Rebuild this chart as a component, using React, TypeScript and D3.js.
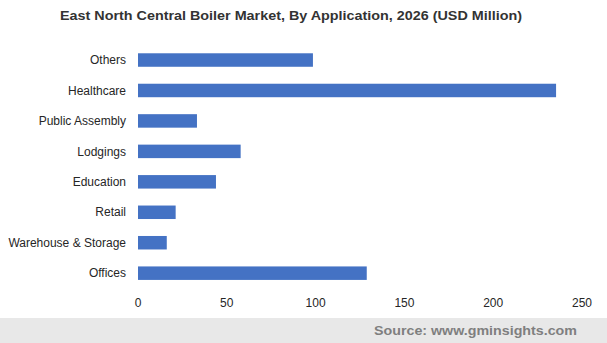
import React from "react";
import * as d3 from "d3";

const categories = [
  "Others",
  "Healthcare",
  "Public Assembly",
  "Lodgings",
  "Education",
  "Retail",
  "Warehouse & Storage",
  "Offices",
];
const values = [98.5, 235.4, 33.2, 57.8, 43.9, 21.2, 16.2, 128.8];
const xTicks = [0, 50, 100, 150, 200, 250];
const title = "East North Central Boiler Market, By Application, 2026 (USD Million)";
const source = "Source: www.gminsights.com";

const W = 607;
const H = 343;

export default function App() {
  const x = d3.scaleLinear().domain([0, 250]).range([138, 582]);
  const y = d3
    .scaleBand<string>()
    .domain(categories)
    .range([44.8, 288.4])
    .paddingInner(0.557)
    .paddingOuter(0.2785);
  const font = "'Liberation Sans', Arial, sans-serif";
  return (
    <svg
      width={W}
      height={H}
      style={{ position: "absolute", left: 0, top: 0, background: "#fff" }}
      fontFamily={font}
    >
      <rect x={0} y={0} width={W} height={H} fill="#ffffff" />
      <text
        x={60}
        y={20}
        fontSize={13.5}
        fontWeight="bold"
        fill="#333333"
        textLength={462}
        lengthAdjust="spacingAndGlyphs"
      >
        {title}
      </text>
      {categories.map((c, i) => (
        <g key={c}>
          <rect x={x(0)} y={y(c)} width={x(values[i]) - x(0)} height={y.bandwidth()} fill="#4472C4" />
          <text
            x={126}
            y={(y(c) as number) + y.bandwidth() / 2}
            dy="0.35em"
            textAnchor="end"
            fontSize={12}
            fill="#262626"
          >
            {c}
          </text>
        </g>
      ))}
      {xTicks.map((t) => (
        <text key={t} x={x(t)} y={307} textAnchor="middle" fontSize={12} fill="#262626">
          {t}
        </text>
      ))}
      <rect x={0} y={318} width={W} height={H - 318} fill="#e8e8e8" />
      <text
        x={374}
        y={334.5}
        fontSize={13.5}
        fontWeight="bold"
        fill="#7f7f7f"
        textLength={203}
        lengthAdjust="spacingAndGlyphs"
      >
        {source}
      </text>
    </svg>
  );
}
